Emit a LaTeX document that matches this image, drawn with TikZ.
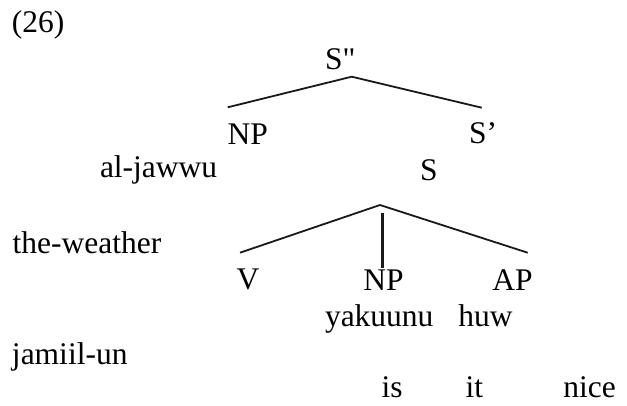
\documentclass[tikz,border=0pt]{standalone}
\usepackage{fontspec}
\setmainfont{Liberation Serif}
\font\sqfont="Liberation Serif" at 31.5pt
\begin{document}
\begin{tikzpicture}[x=1pt,y=-1pt,
  lbl/.style={anchor=base west,inner sep=0pt,outer sep=0pt,font=\fontsize{31.5}{38}\selectfont},
  branch/.style={line width=1.8pt,black!90},
  stem/.style={line width=2.8pt,black!90}]
\useasboundingbox (0,0) rectangle (627,405);
% labels
\node[lbl] (ex) at (12,32) {(26)};
\node[lbl] (Spp) at (325,69) {S{\sqfont "}};
\node[lbl] (NP1) at (227.7,144) {NP};
\node[lbl] (Sp) at (469,143.3) {S’};
\node[lbl] (aljawwu) at (100,177) {al-jawwu};
\node[lbl] (S) at (420,180) {S};
\node[lbl] (theweather) at (12.7,253.3) {the-weather};
\node[lbl] (V) at (236.7,289.3) {V};
\node[lbl] (NP2) at (363.3,290) {NP};
\node[lbl] (AP) at (492.3,290) {AP};
\node[lbl] (yakuunu) at (325,326.7) {yakuunu};
\node[lbl] (huw) at (458.3,326.7) {huw};
\node[lbl] (jamiilun) at (12,364) {jamiil-un};
\node[lbl] (is) at (381.7,397.5) {is};
\node[lbl] (it) at (465.7,397.5) {it};
\node[lbl] (nice) at (563.3,397.5) {nice};
% branch points
\coordinate (topA) at (351.7,76.7);
\coordinate (np1end) at (227.7,107.3);
\coordinate (spend) at (481.7,107.7);
\coordinate (sA) at (380,205);
\coordinate (vend) at (240,252.7);
\coordinate (apend) at (527.7,252.7);
\coordinate (stemtop) at (382.3,213.3);
\coordinate (stembot) at (382.3,268.3);
% connectors
\draw[branch] (np1end) -- (topA) -- (spend);
\draw[branch] (vend) -- (sA) -- (apend);
\draw[stem] (stemtop) -- (stembot);
\end{tikzpicture}
\end{document}
